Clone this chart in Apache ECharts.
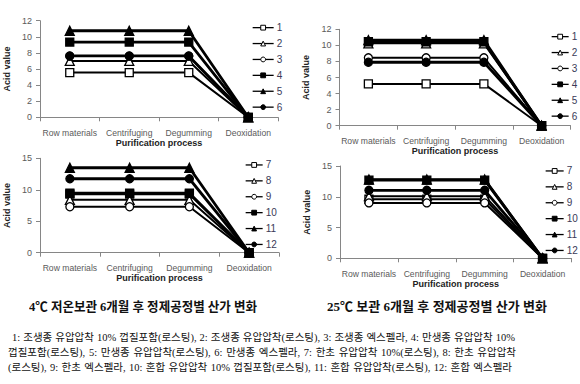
<!DOCTYPE html>
<html><head><meta charset="utf-8">
<script src="https://cdn.jsdelivr.net/npm/echarts@6/dist/echarts.min.js"></script>
<style>
body{margin:0;background:#fff;}
#c{position:absolute;left:0;top:0;width:580px;height:384px;}
.ln{position:absolute;white-space:nowrap;transform-origin:0 50%;font-family:"Liberation Serif","Noto Sans CJK KR",serif;font-size:10.5px;color:#111;line-height:14px;}
.cap{position:absolute;white-space:nowrap;transform-origin:0 50%;font-family:"Liberation Serif","Noto Sans CJK KR",serif;font-weight:bold;font-size:13px;color:#111;line-height:16px;}
</style></head><body>
<div id="c"></div>
<div class="cap" data-l="29" data-w="228" style="top:299px">4℃ 저온보관 6개월 후 정제공정별 산가 변화</div>
<div class="cap" data-l="327" data-w="220" style="top:299px">25℃ 보관 6개월 후 정제공정별 산가 변화</div>
<div class="ln" data-l="12" data-w="503" style="top:331px">1: 조생종 유압압착 10% 껍질포함(로스팅), 2: 조생종 유압압착(로스팅), 3: 조생종 엑스펠라, 4: 만생종 유압압착 10%</div>
<div class="ln" data-l="8" data-w="508" style="top:346px">껍질포함(로스팅), 5: 만생종 유압압착(로스팅), 6: 만생종 엑스펠라, 7: 한초 유압압착 10%(로스팅), 8: 한초 유압압착</div>
<div class="ln" data-l="8" data-w="504" style="top:361px">(로스팅), 9: 한초 엑스펠라, 10: 혼합 유압압착 10% 껍질포함(로스팅), 11: 혼합 유압압착(로스팅), 12: 혼합 엑스펠라</div>
<script>
// categories and tick labels
const categories = ['Row materials', 'Centrifuging', 'Degumming', 'Deoxidation'];
const yTicksTop = [0, 2, 4, 6, 8, 10, 12];
const yTicksBottom = [0, 5, 10, 15];
const namesTop = ['1', '2', '3', '4', '5', '6'];
const namesBottom = ['7', '8', '9', '10', '11', '12'];

// 4℃ storage (left column)
const c4_1 = [5.55, 5.55, 5.55, 0];
const c4_2 = [7.0, 7.0, 7.0, 0];
const c4_3 = [7.6, 7.6, 7.6, 0];
const c4_4 = [9.35, 9.35, 9.35, 0];
const c4_5 = [10.75, 10.75, 10.75, 0];
const c4_6 = [7.62, 7.62, 7.62, 0];
const c4_7 = [9.3, 9.3, 9.3, 0];
const c4_8 = [8.4, 8.4, 8.4, 0];
const c4_9 = [7.3, 7.3, 7.3, 0];
const c4_10 = [9.45, 9.45, 9.45, 0];
const c4_11 = [13.5, 13.5, 13.5, 0];
const c4_12 = [11.75, 11.75, 11.75, 0];

// 25℃ storage (right column)
const c25_1 = [5.2, 5.2, 5.2, 0];
const c25_2 = [10.25, 10.25, 10.25, 0];
const c25_3 = [8.45, 8.45, 8.45, 0];
const c25_4 = [10.45, 10.45, 10.45, 0];
const c25_5 = [10.65, 10.65, 10.65, 0];
const c25_6 = [7.9, 7.9, 7.9, 0];
const c25_7 = [9.6, 9.6, 9.6, 0];
const c25_8 = [10.1, 10.1, 10.1, 0];
const c25_9 = [9.0, 9.0, 9.0, 0];
const c25_10 = [12.7, 12.7, 12.7, 0];
const c25_11 = [12.8, 12.8, 12.8, 0];
const c25_12 = [11.05, 11.05, 11.05, 0];

const symbols = ['rect', 'triangle', 'circle', 'rect', 'triangle', 'circle'];
const filledFlags = [false, false, false, true, true, true];

const panels = [
  {grid: {left: 40, top: 20.7, width: 238, height: 96.6}, ticks: yTicksTop, names: namesTop, data: [c4_1, c4_2, c4_3, c4_4, c4_5, c4_6], nameGap: 20, lg: {left: 247, top: 14.7, w: 21}},
  {grid: {left: 339.5, top: 29.3, width: 231, height: 96.4}, ticks: yTicksTop, names: namesTop, data: [c25_1, c25_2, c25_3, c25_4, c25_5, c25_6], nameGap: 18, lg: {left: 546, top: 23.7, w: 17}},
  {grid: {left: 40, top: 158.3, width: 239, height: 94.4}, ticks: yTicksBottom, names: namesBottom, data: [c4_7, c4_8, c4_9, c4_10, c4_11, c4_12], nameGap: 17, lg: {left: 240, top: 152, w: 17}},
  {grid: {left: 340, top: 166, width: 231.5, height: 92.3}, ticks: yTicksBottom, names: namesBottom, data: [c25_7, c25_8, c25_9, c25_10, c25_11, c25_12], nameGap: 19, lg: {left: 540, top: 158, w: 18}}
];

const font = '"Liberation Sans", Arial, sans-serif';
const axisGray = '#868686';
const grids = [], xAxes = [], yAxes = [], series = [], legends = [];
panels.forEach((p, i) => {
  grids.push(Object.assign({containLabel: false}, p.grid));
  xAxes.push({
    type: 'category', gridIndex: i, data: categories, boundaryGap: true,
    name: 'Purification process', nameLocation: 'middle', nameGap: p.nameGap,
    nameTextStyle: {fontFamily: font, fontWeight: 'bold', fontSize: 9, color: '#222'},
    axisLine: {lineStyle: {color: axisGray, width: 1}},
    axisTick: {show: true, length: 4, inside: false, lineStyle: {color: axisGray}},
    axisLabel: {fontFamily: font, fontSize: 8.6, color: '#5a5a5a', margin: 11, interval: 0},
    splitLine: {show: false}
  });
  const ymax = p.ticks[p.ticks.length - 1];
  yAxes.push({
    type: 'value', gridIndex: i, min: p.ticks[0], max: ymax, interval: p.ticks[1] - p.ticks[0],
    name: 'Acid value', nameLocation: 'middle', nameGap: 29, nameRotate: 90,
    nameTextStyle: {fontFamily: font, fontWeight: 'bold', fontSize: 9, color: '#222'},
    axisLine: {show: true, lineStyle: {color: axisGray, width: 1}},
    axisTick: {show: true, length: 4, lineStyle: {color: axisGray}},
    axisLabel: {fontFamily: font, fontSize: 9, color: '#5a5a5a', margin: 8},
    splitLine: {show: false}
  });
  p.names.forEach((n, k) => {
    const filled = filledFlags[k];
    const sym = symbols[k];
    series.push({
      type: 'line', name: n, xAxisIndex: i, yAxisIndex: i, data: p.data[k],
      symbol: sym, symbolSize: sym === 'triangle' ? 9 : 8,
      showAllSymbol: true,
      lineStyle: {color: '#000', width: filled ? 2.8 : 2},
      itemStyle: {color: filled ? '#000' : '#fff', borderColor: '#000', borderWidth: 1.3},
      emphasis: {disabled: true}, animation: false, z: 2 + k
    });
  });
  legends.push({
    data: p.names, orient: 'vertical', left: p.lg.left, top: p.lg.top,
    itemWidth: p.lg.w, itemHeight: 6, itemGap: 0,
    lineStyle: {width: 1.3},
    itemStyle: {borderWidth: 1},
    textStyle: {fontFamily: font, fontSize: 10, color: '#3a3a58', lineHeight: 15.9, padding: [0, 0, 0, -2]},
    selectedMode: false
  });
});

const chart = echarts.init(document.getElementById('c'), null, {renderer: 'svg'});
chart.setOption({
  backgroundColor: '#fff', animation: false,
  grid: grids, xAxis: xAxes, yAxis: yAxes, series: series, legend: legends
});

// fit text lines to their measured widths in the reference
document.querySelectorAll('.ln, .cap').forEach(el => {
  const L = +el.dataset.l, W = +el.dataset.w;
  el.style.left = L + 'px';
  const w = el.getBoundingClientRect().width;
  const spaces = (el.textContent.match(/ /g) || []).length;
  if (w < W && spaces) {
    el.style.wordSpacing = ((W - w) / spaces) + 'px';
  } else if (w > W) {
    el.style.transform = 'scaleX(' + (W / w) + ')';
  }
});
</script>
</body></html>
